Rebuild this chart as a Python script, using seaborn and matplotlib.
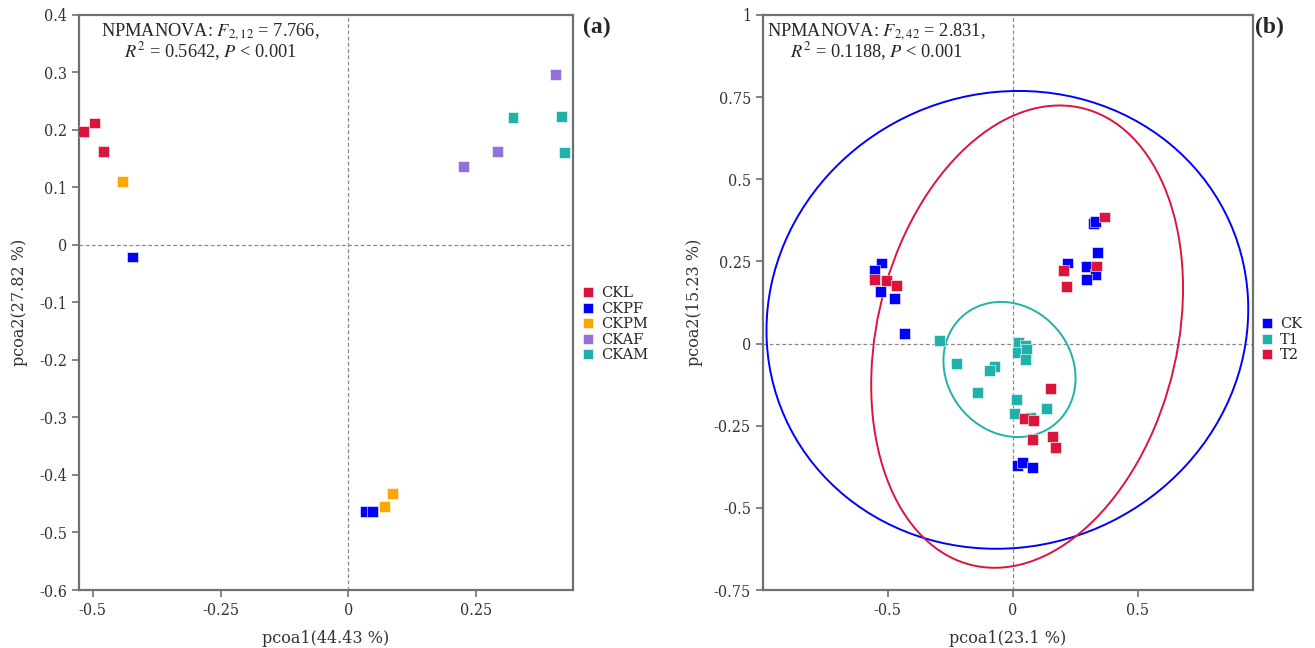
import numpy as np
import pandas as pd
import matplotlib
matplotlib.use("Agg")
import matplotlib.pyplot as plt
import seaborn as sns
from matplotlib.patches import Ellipse

# ---------------- Panel (a) data ----------------
a_groups = ["CKL", "CKL", "CKL",
            "CKPF", "CKPF", "CKPF",
            "CKPM", "CKPM", "CKPM",
            "CKAF", "CKAF", "CKAF",
            "CKAM", "CKAM", "CKAM"]
a_pcoa1 = [-0.518, -0.496, -0.479,
           -0.422, 0.033, 0.047,
           -0.441, 0.070, 0.086,
           0.406, 0.291, 0.225,
           0.322, 0.416, 0.422]
a_pcoa2 = [0.198, 0.212, 0.162,
           -0.021, -0.463, -0.464,
           0.110, -0.454, -0.433,
           0.296, 0.163, 0.137,
           0.221, 0.223, 0.160]
a_order = ["CKL", "CKPF", "CKPM", "CKAF", "CKAM"]
a_colors = ["#DC143C", "#0000FF", "#FFA500", "#9370DB", "#20B2AA"]

# ---------------- Panel (b) data ----------------
ck_x = [-0.524, -0.552, -0.528, -0.472, -0.432,
        0.324, 0.332, 0.340, 0.220, 0.296, 0.332, 0.296,
        0.020, 0.040, 0.080]
ck_y = [0.245, 0.221, 0.158, 0.136, 0.030,
        0.364, 0.370, 0.276, 0.245, 0.233, 0.209, 0.194,
        -0.370, -0.361, -0.376]
t1_x = [-0.292, -0.224, -0.072, -0.092, -0.140,
        0.024, 0.052, 0.020, 0.056, 0.052,
        0.016, 0.008, 0.072, 0.136]
t1_y = [0.009, -0.061, -0.070, -0.082, -0.148,
        0.003, -0.006, -0.027, -0.018, -0.048,
        -0.170, -0.212, -0.224, -0.197]
t2_x = [-0.552, -0.504, -0.464,
        0.368, 0.336, 0.204, 0.216,
        0.152, 0.048, 0.084, 0.080, 0.160, 0.172]
t2_y = [0.194, 0.191, 0.176,
        0.385, 0.236, 0.221, 0.173,
        -0.136, -0.227, -0.233, -0.291, -0.282, -0.315]
b_order = ["CK", "T1", "T2"]
b_colors = ["#0000FF", "#20B2AA", "#DC143C"]

# confidence ellipses: centre, width, height, angle
ell_groups = ["CK", "T1", "T2"]
ell_cx = [-0.021, -0.0125, 0.058]
ell_cy = [0.072, -0.079, 0.021]
ell_w = [1.93, 0.535, 1.48]
ell_h = [1.39, 0.403, 1.16]
ell_angle = [4.0, -13.5, 60.0]

# ---------------- style ----------------
sns.set_theme(style="white")
plt.rcParams["font.family"] = ["DejaVu Serif"]
plt.rcParams["mathtext.fontset"] = "stix"

fig = plt.figure(figsize=(13.15, 6.48), dpi=100)
ax_a = fig.add_axes([0.060, 0.0895, 0.376, 0.8875])
ax_b = fig.add_axes([0.580, 0.0895, 0.3725, 0.8875])

df_a = pd.DataFrame({"pcoa1": a_pcoa1, "pcoa2": a_pcoa2, "group": a_groups})
df_b = pd.DataFrame({
    "pcoa1": ck_x + t1_x + t2_x,
    "pcoa2": ck_y + t1_y + t2_y,
    "group": ["CK"] * len(ck_x) + ["T1"] * len(t1_x) + ["T2"] * len(t2_x),
})

spine_col = "#707070"


def style_axes(ax):
    ax.axhline(0, color="#8a8a8a", ls=(0, (3, 2)), lw=0.9, zorder=0)
    ax.axvline(0, color="#8a8a8a", ls=(0, (3, 2)), lw=0.9, zorder=0)
    for s in ax.spines.values():
        s.set_color(spine_col)
        s.set_linewidth(1.6)
    ax.tick_params(axis="both", which="both", direction="out", length=5,
                   width=1.2, color=spine_col, left=True, bottom=True,
                   top=False, right=False, labelcolor="#333333")
    for lab in ax.get_xticklabels() + ax.get_yticklabels():
        lab.set_fontfamily("DejaVu Serif")
        lab.set_fontsize(11.5)
        lab.set_fontstretch("condensed")


def fmt(v):
    return f"{v:g}"


# ---------- panel (a) ----------
sns.scatterplot(data=df_a, x="pcoa1", y="pcoa2", hue="group",
                hue_order=a_order, palette=a_colors, marker="s", s=62,
                linewidth=0.4, edgecolor="white", ax=ax_a, zorder=3)
ax_a.set_xlim(-0.527, 0.44)
ax_a.set_ylim(-0.6, 0.4)
a_xticks = [-0.5, -0.25, 0, 0.25]
a_yticks = [-0.6, -0.5, -0.4, -0.3, -0.2, -0.1, 0, 0.1, 0.2, 0.3, 0.4]
ax_a.set_xticks(a_xticks, [fmt(v) for v in a_xticks])
ax_a.set_yticks(a_yticks, [fmt(v) for v in a_yticks])
style_axes(ax_a)
ax_a.set_xlabel("pcoa1(44.43 %)", fontsize=11.5, color="#333333", labelpad=8)
ax_a.set_ylabel("pcoa2(27.82 %)", fontsize=11.5, color="#333333", labelpad=8)
ax_a.text(0.266, 0.99, "NPMANOVA: $F_{2,12}$ = 7.766,\n$R^2$ = 0.5642, $P$ < 0.001",
          transform=ax_a.transAxes, ha="center", va="top",
          fontsize=13.2, family="Liberation Serif", linespacing=0.9)
sns.move_legend(ax_a, loc="center left", bbox_to_anchor=(1.0, 0.462),
                frameon=False, title=None, fontsize=10.5, labelspacing=0.1,
                handletextpad=0.5, handlelength=0.8, borderaxespad=0.2,
                markerscale=0.9)

# ---------- panel (b) ----------
sns.scatterplot(data=df_b, x="pcoa1", y="pcoa2", hue="group",
                hue_order=b_order, palette=b_colors, marker="s", s=62,
                linewidth=0.4, edgecolor="white", ax=ax_b, zorder=3)
for g, cx, cy, w, h, ang in zip(ell_groups, ell_cx, ell_cy, ell_w, ell_h, ell_angle):
    col = b_colors[b_order.index(g)]
    ax_b.add_patch(Ellipse((cx, cy), w, h, angle=ang, fill=False,
                           edgecolor=col, lw=1.4, zorder=2))
ax_b.set_xlim(-1.0, 0.96)
ax_b.set_ylim(-0.75, 1.0)
b_xticks = [-0.5, 0, 0.5]
b_yticks = [-0.75, -0.5, -0.25, 0, 0.25, 0.5, 0.75, 1]
ax_b.set_xticks(b_xticks, [fmt(v) for v in b_xticks])
ax_b.set_yticks(b_yticks, [fmt(v) for v in b_yticks])
style_axes(ax_b)
ax_b.set_xlabel("pcoa1(23.1 %)", fontsize=11.5, color="#333333", labelpad=8)
ax_b.set_ylabel("pcoa2(15.23 %)", fontsize=11.5, color="#333333", labelpad=8)
ax_b.text(0.232, 0.99, "NPMANOVA: $F_{2,42}$ = 2.831,\n$R^2$ = 0.1188, $P$ < 0.001",
          transform=ax_b.transAxes, ha="center", va="top",
          fontsize=13.2, family="Liberation Serif", linespacing=0.9)
sns.move_legend(ax_b, loc="center left", bbox_to_anchor=(1.0, 0.435),
                frameon=False, title=None, fontsize=10.5, labelspacing=0.1,
                handletextpad=0.5, handlelength=0.8, borderaxespad=0.2,
                markerscale=0.9)

fig.text(0.454, 0.957, "(a)", fontsize=17, fontweight="bold",
         family="Liberation Serif", ha="center", va="center")
fig.text(0.965, 0.957, "(b)", fontsize=17, fontweight="bold",
         family="Liberation Serif", ha="center", va="center")

fig.savefig("out.png", dpi=100)
